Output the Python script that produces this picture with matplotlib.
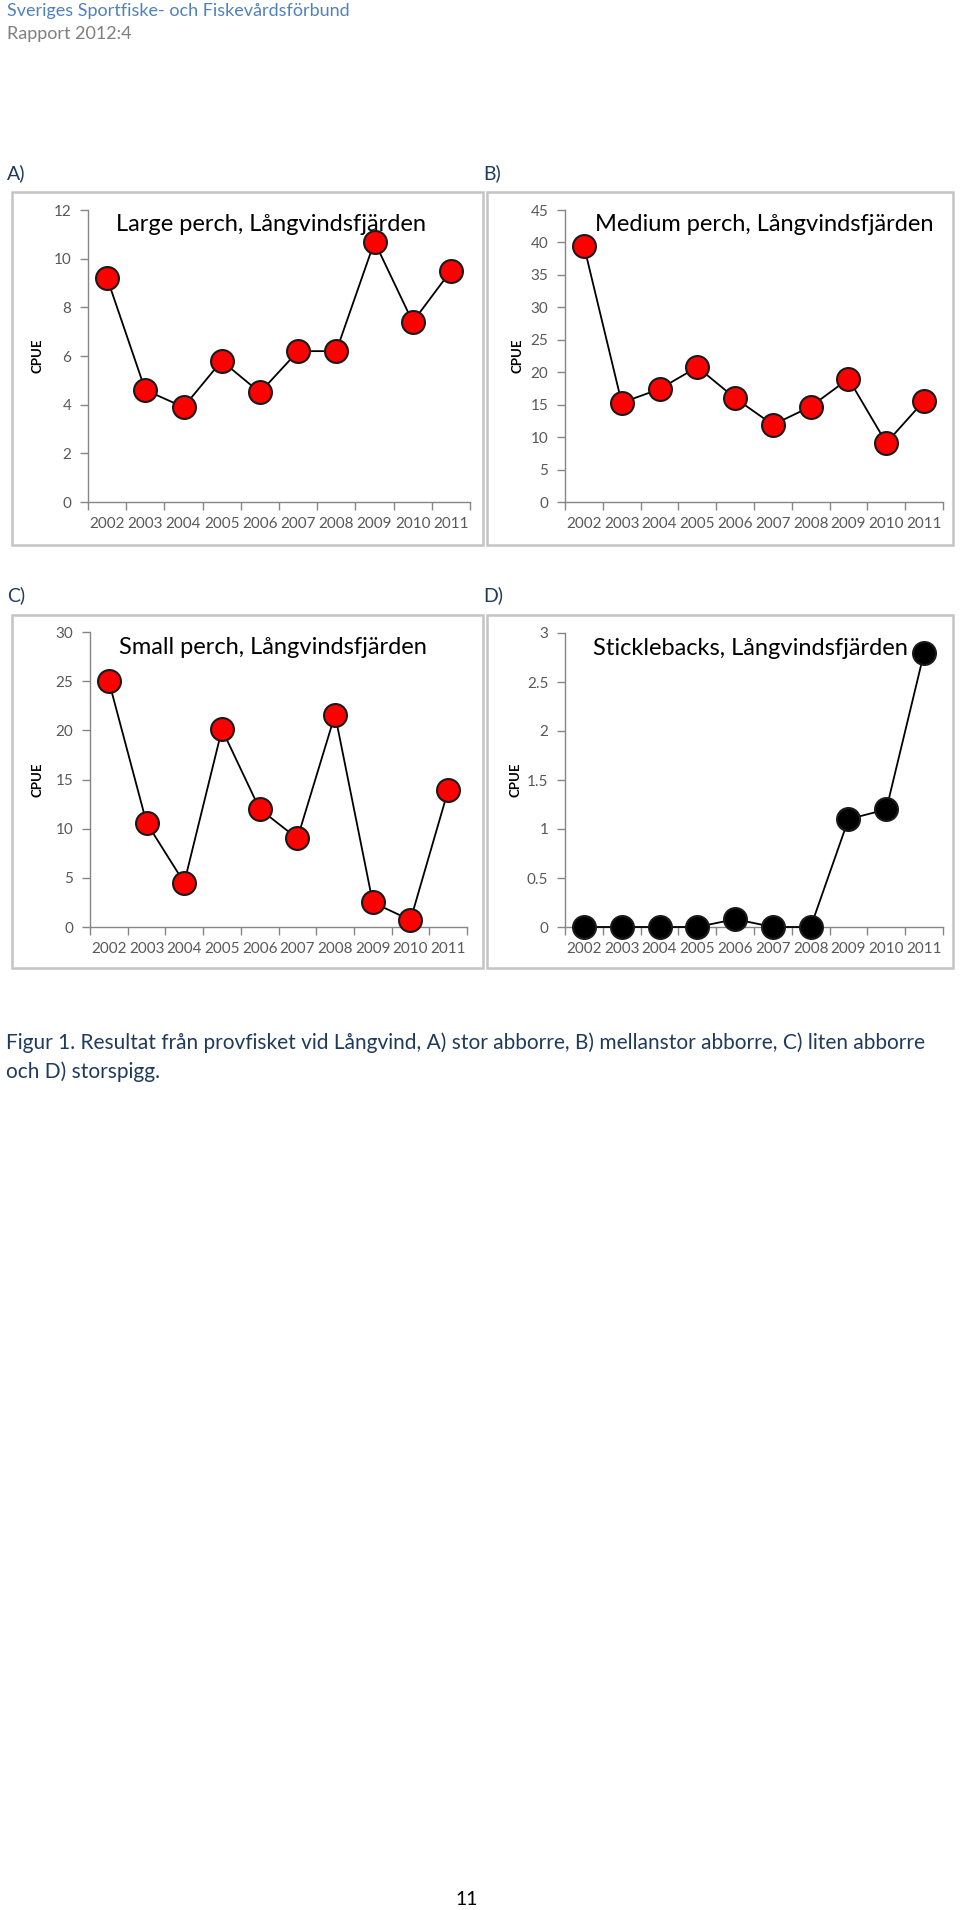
import matplotlib

matplotlib.use("Agg")
import matplotlib.pyplot as plt
from matplotlib.patches import Rectangle
from matplotlib.ticker import FixedLocator, FuncFormatter

W, H = 960, 1910

years = ["2002", "2003", "2004", "2005", "2006", "2007", "2008", "2009", "2010", "2011"]
large_perch = [9.2, 4.6, 3.9, 5.8, 4.5, 6.2, 6.2, 10.7, 7.4, 9.5]
medium_perch = [39.5, 15.3, 17.4, 20.8, 16.0, 11.9, 14.7, 19.0, 9.1, 15.6]
small_perch = [25.0, 10.6, 4.5, 20.1, 12.0, 9.0, 21.6, 2.5, 0.7, 13.9]
sticklebacks = [0.0, 0.0, 0.0, 0.0, 0.08, 0.0, 0.0, 1.1, 1.2, 2.8]

titles = [
    "Large perch, Långvindsfjärden",
    "Medium perch, Långvindsfjärden",
    "Small perch, Långvindsfjärden",
    "Sticklebacks, Långvindsfjärden",
]
panel_letters = ["A)", "B)", "C)", "D)"]
y_max = [12, 45, 30, 3]
y_step = [2, 5, 5, 0.5]

header = "Sveriges Sportfiske- och Fiskevårdsförbund"
report = "Rapport 2012:4"
caption = [
    "Figur 1. Resultat från provfisket vid Långvind, A) stor abborre, B) mellanstor abborre, C) liten abborre",
    "och D) storspigg.",
]
page_no = "11"

FONT = ["Lato", "DejaVu Sans"]
plt.rcParams["font.family"] = FONT

fig = plt.figure(figsize=(W / 100, H / 100), dpi=100)


def fx(x):
    return x / W


def fy(y):
    return 1 - y / H


def axes_at(left, top, right, bottom):
    return fig.add_axes([fx(left), fy(bottom), (right - left) / W, (bottom - top) / H])


def draw_panel(values, title, ymax, step, frame, plot_box, title_pos, label_x, face):
    fl, ft, fr, fb = frame
    fig.patches.append(
        Rectangle((fx(fl), fy(fb)), (fr - fl) / W, (fb - ft) / H, transform=fig.transFigure,
                  fill=False, edgecolor="#c4c4c4", linewidth=1.8)
    )
    ax = axes_at(*plot_box)
    x = list(range(len(values)))
    ax.plot(x, values, color="black", linewidth=1.3, marker="o", markersize=16.5,
            markerfacecolor=face, markeredgecolor="#1a1a1a", markeredgewidth=1.5,
            clip_on=False, zorder=3)
    ax.set_xlim(-0.5, len(values) - 0.5)
    ax.set_ylim(0, ymax)
    n = int(round(ymax / step))
    ax.yaxis.set_major_locator(FixedLocator([i * step for i in range(n + 1)]))
    ax.yaxis.set_major_formatter(FuncFormatter(lambda v, _: f"{v:g}"))
    ax.set_xticks(x)
    ax.set_xticklabels(years)
    ax.set_xticks([i - 0.5 for i in range(len(values) + 1)], minor=True)
    ax.tick_params(axis="x", which="major", length=0, pad=11, labelsize=11, labelcolor="#595959")
    ax.tick_params(axis="x", which="minor", length=6, width=1, color="#868686", direction="out")
    ax.tick_params(axis="y", length=6, width=1, color="#868686", direction="out", pad=6,
                   labelsize=11, labelcolor="#595959")
    for side in ("top", "right"):
        ax.spines[side].set_visible(False)
    for side in ("left", "bottom"):
        ax.spines[side].set_color("#868686")
        ax.spines[side].set_linewidth(1)
    ax.set_ylabel("CPUE", fontsize=9.5, fontweight="bold")
    left, _, right, _ = plot_box
    ax.yaxis.set_label_coords((label_x - left) / (right - left), 0.5)
    ax.patch.set_alpha(0)
    ax.text(title_pos[0], title_pos[1], title, transform=ax.transAxes, ha="center", va="center",
            fontsize=17, color="black", zorder=2)
    return ax


# header
fig.text(fx(7), fy(11), header, fontsize=13, color="#4f81bd", va="center", ha="left")
fig.text(fx(7), fy(34), report, fontsize=13, color="#7f7f7f", va="center", ha="left")

panel_values = [large_perch, medium_perch, small_perch, sticklebacks]
frames = [(12, 192, 483, 545), (487, 192, 953, 545), (12, 615, 483, 968), (487, 615, 953, 968)]
plot_boxes = [(88, 210, 470, 502), (565, 210, 943, 502), (90, 632, 467, 927), (565, 633, 943, 927)]
title_positions = [(0.48, 0.949), (0.526, 0.949), (0.484, 0.946), (0.49, 0.946)]
label_xs = [43, 523, 43, 521]
letter_positions = [(7, 173), (483, 173), (7, 595), (483, 595)]
faces = ["#ff0000", "#ff0000", "#ff0000", "black"]

for i in range(4):
    draw_panel(panel_values[i], titles[i], y_max[i], y_step[i], frames[i], plot_boxes[i],
               title_positions[i], label_xs[i], faces[i])
    fig.text(fx(letter_positions[i][0]), fy(letter_positions[i][1]), panel_letters[i],
             fontsize=14, color="#1f3b5c", va="center", ha="left")

# caption
fig.text(fx(6), fy(1043), caption[0], fontsize=15, color="#1f3b5c", va="center", ha="left")
fig.text(fx(6), fy(1072), caption[1], fontsize=15, color="#1f3b5c", va="center", ha="left")

fig.text(fx(467), fy(1899), page_no, fontsize=14, color="black", va="center", ha="center")

fig.savefig("out.png", dpi=100)
